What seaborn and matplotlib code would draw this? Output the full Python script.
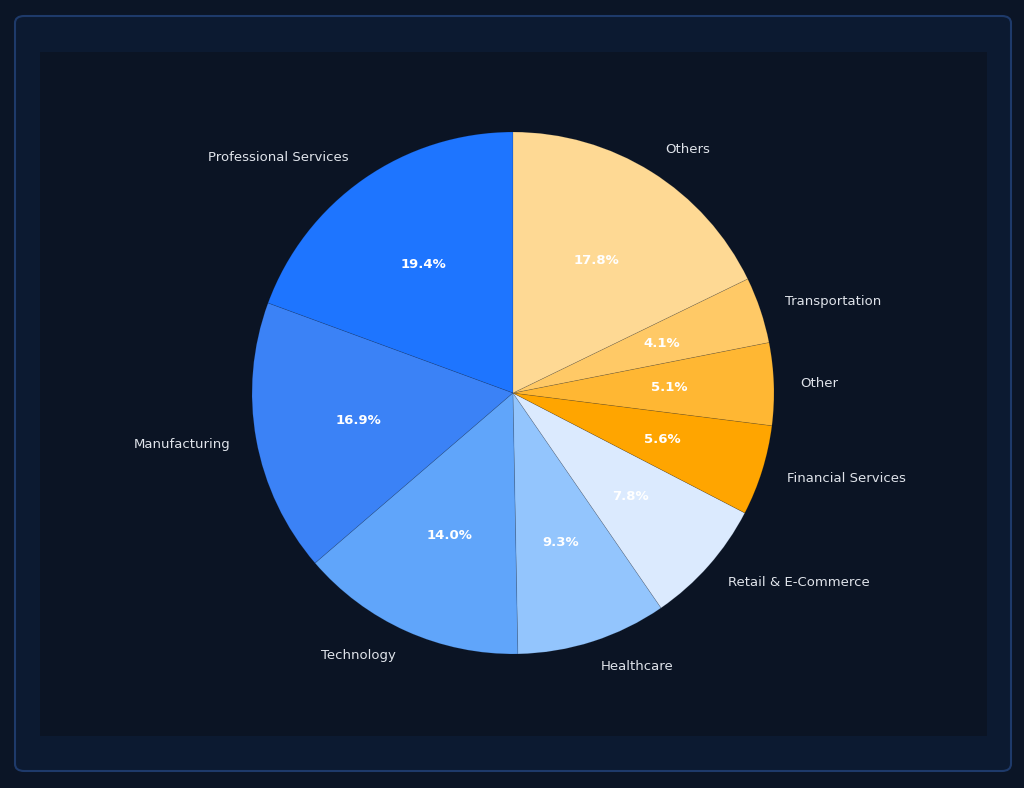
import matplotlib
matplotlib.use("Agg")
import matplotlib.pyplot as plt
import seaborn as sns
from matplotlib.patches import FancyBboxPatch, Rectangle

categories = ["Professional Services", "Manufacturing", "Technology", "Healthcare",
              "Retail & E-Commerce", "Financial Services", "Other", "Transportation", "Others"]
shares = [19.4, 16.9, 14.0, 9.3, 7.8, 5.6, 5.1, 4.1, 17.8]
slice_colors = ["#1e75ff", "#3b82f6", "#60a5fa", "#93c5fd", "#dbeafe",
                "#ffa500", "#ffb733", "#ffc966", "#fed994"]

sns.set_theme(style="dark")
plt.rcParams['font.family'] = ['DejaVu Sans']

W, H = 1024, 788
fig = plt.figure(figsize=(W / 100, H / 100), dpi=100)
fig.patch.set_facecolor("#0b1526")

# card
card = FancyBboxPatch((15 / W, (H - 771) / H), (1011 - 15) / W, (771 - 16) / H,
                      boxstyle="round,pad=0,rounding_size=0.009",
                      transform=fig.transFigure, facecolor="#0c1a31",
                      edgecolor="#1e3a6a", linewidth=1.5, zorder=-2)
fig.patches.append(card)
inner = Rectangle((40 / W, (H - 736) / H), (987 - 40) / W, (736 - 52) / H,
                  transform=fig.transFigure, facecolor="#0b1424",
                  edgecolor="none", zorder=-1)
fig.patches.append(inner)

r = 261
cx, cy = 513, H - 393
side = 2.5 * r
ax = fig.add_axes([(cx - side / 2) / W, (cy - side / 2) / H, side / W, side / H])
ax.set_facecolor("none")
ax.set_zorder(5)

wedges, texts, autotexts = ax.pie(
    shares, labels=categories, colors=slice_colors, startangle=90,
    autopct="%1.1f%%", pctdistance=0.6, labeldistance=1.1,
    wedgeprops=dict(edgecolor=(0.04, 0.08, 0.14, 0.18), linewidth=0.5),
    textprops=dict(color="#dfe3ea", fontsize=9.5))
for t in autotexts:
    t.set_color("white")
    t.set_fontweight("bold")
    t.set_fontsize(9.5)

fig.savefig("out.png", dpi=100, facecolor=fig.get_facecolor())
